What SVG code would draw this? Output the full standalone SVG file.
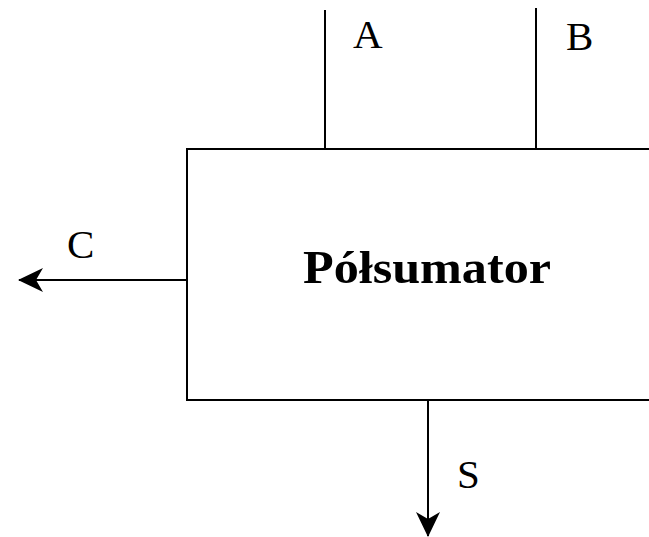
<svg xmlns="http://www.w3.org/2000/svg" width="649" height="537" viewBox="0 0 649 537">
<style>
.ln{stroke:#000;stroke-width:2;fill:none}
.lbl{font-family:"Liberation Serif",serif;font-size:41px;fill:#000}
.title{font-family:"Liberation Serif",serif;font-size:47px;font-weight:bold;fill:#000}
</style>
<defs>
<marker id="ah" markerWidth="26" markerHeight="26" viewBox="0 0 26 26" refX="24" refY="13" orient="auto" markerUnits="userSpaceOnUse">
<path d="M0,1 L25,13 L0,25 L7,13 Z" fill="#000"/>
</marker>
</defs>
<rect width="649" height="537" fill="#fff"/>
<g id="connectors">
<line class="ln" x1="325" y1="10" x2="325" y2="149"/>
<line class="ln" x1="536" y1="8" x2="536" y2="149"/>
<line class="ln" x1="187" y1="280" x2="19" y2="280" marker-end="url(#ah)"/>
<line class="ln" x1="428" y1="400" x2="428" y2="536" marker-end="url(#ah)"/>
</g>
<g id="node-polsumator">
<path class="ln" d="M660,149 L187,149 L187,400 L660,400"/>
<text class="title" x="303" y="283" textLength="248" lengthAdjust="spacingAndGlyphs">Półsumator</text>
</g>
<g id="labels">
<text class="lbl" x="353" y="48">A</text>
<text class="lbl" x="566" y="50">B</text>
<text class="lbl" x="67" y="258">C</text>
<text class="lbl" x="457" y="488">S</text>
</g>
</svg>
